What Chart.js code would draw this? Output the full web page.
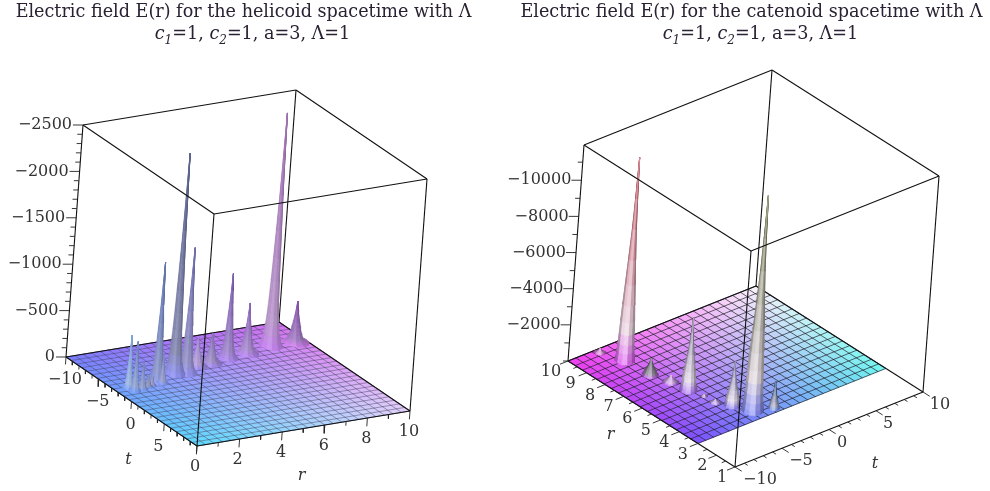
<!DOCTYPE html>
<html>
<head>
<meta charset="utf-8">
<title>Electric field E(r)</title>
<script src="https://cdn.jsdelivr.net/npm/chart.js@4"></script>
<style>
  html, body { margin: 0; padding: 0; background: #fff; }
  #page { position: relative; width: 990px; height: 491px; overflow: hidden; }
  .panel { position: absolute; top: 0; width: 495px; height: 491px; }
  .panel canvas { filter: blur(0.4px); }
  .title { position: absolute; top: 0; width: 495px; text-align: center; color: #2a2233;
           font: 17.6px/22px "DejaVu Serif", serif; white-space: nowrap; filter: blur(0.3px); }
  .title sub { font-size: 12px; line-height: 0; }
  .title span { position: relative; left: 9px; }
</style>
</head>
<body>
<div id="page">
  <div class="panel" style="left:0"><canvas id="helicoid" width="495" height="491"></canvas></div>
  <div class="panel" style="left:495px"><canvas id="catenoid" width="495" height="491"></canvas></div>
  <div class="title" style="left:-4px">Electric field E(r) for the helicoid spacetime with Λ<br><span><i>c</i><sub><i>1</i></sub>=1, <i>c</i><sub><i>2</i></sub>=1, a=3, Λ=1</span></div>
  <div class="title" style="left:504px">Electric field E(r) for the catenoid spacetime with Λ<br><span><i>c</i><sub><i>1</i></sub>=1, <i>c</i><sub><i>2</i></sub>=1, a=3, Λ=1</span></div>
</div>
<script>
// Picos de la superficie izquierda (helicoide)
const helicoidR = [0.62, 0.77, 1.15, 1.49, 1.7, 2.05, 2.24, 3.2, 3.7, 4.5, 5.2, 6.1, 7.1, 8.4, 9.55];
const helicoidT = [-2.5, -2.0, -2.1, -2.3, -2.4, -2.8, -2.6, -3.9, -3.7, -4.7, -4.8, -5.2, -5.5, -6.1, -6.1];
const helicoidE = [-570, -520, -280, -120, -90, -1290, -290, -2370, -1340, -290, -310, -900, -530, -2500, -430];
const helicoidW = [0.24, 0.22, 0.22, 0.18, 0.16, 0.36, 0.22, 0.4, 0.4, 0.4, 0.42, 0.4, 0.44, 0.44, 0.52];

// Picos de la superficie derecha (catenoide)
const catenoidR = [8.87, 9.8, 7.6, 6.8, 6.0, 5.35, 4.8, 4.3, 3.8, 3.6, 3.27];
const catenoidT = [-6.2, -7.0, -6.0, -5.4, -5.1, -4.7, -4.6, -3.8, -3.6, -3.0, -1.4];
const catenoidE = [-11200, -200, -900, -350, -4000, -100, -150, -2400, -200, -11900, -1450];
const catenoidW = [0.36, 0.22, 0.3, 0.3, 0.32, 0.12, 0.22, 0.3, 0.14, 0.4, 0.2];

// Etiquetas de los ejes
const helicoidRTicks = [0, 2, 4, 6, 8, 10];
const helicoidTTicks = [-10, -5, 0, 5];
const helicoidETicks = [0, -500, -1000, -1500, -2000, -2500];
const catenoidRTicks = [1, 2, 3, 4, 5, 6, 7, 8, 9, 10];
const catenoidTTicks = [-10, -5, 0, 5, 10];
const catenoidETicks = [-2000, -4000, -6000, -8000, -10000];

// Colores de la punta de cada pico
const helicoidTips = ['#7fa8e0', '#6f8ec8', '#7c90c4', '#8a98c4', '#9c9ccc', '#5f74b4', '#8490c8', '#56608e',
  '#6c6cb0', '#a890d4', '#8c78bc', '#7c5cb4', '#8c64bc', '#a070b4', '#8450ac'];
const catenoidTips = ['#c8505e', '#d890d8', '#5c5868', '#d0a0e8', '#7c7a94', '#c8a0d8', '#c8a8f0',
  '#7474a0', '#9090d0', '#6e7448', '#2e4a7c'];

const panels = [
  {
    id: 'helicoid', xMin: 0,
    org: [66, 357], uVec: [213, -35], vVec: [131, 89], wVec: [17, -232],
    rMin: 0, rMax: 10, eTop: -2500, floorR: [0, 10], rCells: 25, tCells: 25,
    corners: { a: [122, 124, 255], b: [214, 111, 240], c: [228, 208, 250], d: [95, 220, 255] },
    mesh: 'rgba(55,55,85,0.5)', meshWidth: 0.9,
    mid: [236, 226, 250], midK: 0.35, midAt: 0.1,
    shades: [0.92, 1.02, 1.07, 0.92, 0.78],
    ringH: [0, 0.02, 0.05, 0.09, 0.14, 0.2, 0.28, 0.38, 0.5, 0.65, 0.8, 1],
    ringR: [1, 0.8, 0.64, 0.54, 0.46, 0.4, 0.34, 0.28, 0.21, 0.13, 0.07, 0],
    tAspect: 2.7,
    spikes: { r: helicoidR, t: helicoidT, e: helicoidE, w: helicoidW, tips: helicoidTips },
    rTicks: helicoidRTicks, tTicks: helicoidTTicks, eTicks: helicoidETicks,
    rMinor: 1, tMinor: 1, eMinor: 100,
    rEdgeT: 10, tEdgeR: 0, eR: 0, backT: -10,
    rTick: [0, 0, 90], tTick: [0, 0, 80], eTick: [-0.38, -0.3, 0],
    rDx: [-2, -2, -1, -1, -1, -1], rDy: 21,
    tDx: [-1, -1, -1, -6], tDy: 23,
    eLabelDx: -11,
    rName: [5, 10, -2, 47], tName: [0, 0, -3, 58]
  },
  {
    id: 'catenoid', xMin: 495,
    org: [735, 467], uVec: [-167, -106], vVec: [188, -75], wVec: [16, -216],
    rMin: 1, rMax: 10, eTop: -11950, floorR: [3, 10], rCells: 18, tCells: 24,
    corners: { a: [122, 80, 255], b: [242, 60, 240], c: [251, 243, 251], d: [111, 248, 240] },
    mesh: 'rgba(25,25,35,0.75)', meshWidth: 0.9,
    mid: [238, 226, 240], midK: 0.9, midAt: 0.16,
    shades: [0.66, 1.14, 1.24, 0.84, 0.6],
    ringH: [0, 0.02, 0.05, 0.09, 0.14, 0.2, 0.28, 0.38, 0.5, 0.65, 0.8, 1],
    ringR: [1, 0.92, 0.85, 0.8, 0.75, 0.7, 0.62, 0.5, 0.36, 0.2, 0.1, 0],
    tAspect: 2.2,
    spikes: { r: catenoidR, t: catenoidT, e: catenoidE, w: catenoidW, tips: catenoidTips },
    rTicks: catenoidRTicks, tTicks: catenoidTTicks, eTicks: catenoidETicks,
    rMinor: 0.5, tMinor: 1, eMinor: 1000,
    rEdgeT: -10, tEdgeR: 1, eR: 10, backT: 10,
    rTick: [0, -0.85, 0], tTick: [-0.36, 0, 0], eTick: [0.21, -0.65, 0],
    rDx: [-13, -14, -15, -15, -15, -15, -15, -15, -16, -17], rDy: 11,
    tDx: [25, 19, 13, 12, 17], tDy: 13,
    eLabelDx: -10,
    rName: [5.5, -10, -41, 21], tName: [1, 0, 46, 34]
  }
];

// Proyeccion ortografica del cubo (r, t, E) al plano de la pagina
function project(p, r, t, e) {
  const u = (r - p.rMin) / (p.rMax - p.rMin);
  const v = (t + 10) / 20;
  const w = e / p.eTop;
  return {
    x: p.org[0] + u * p.uVec[0] + v * p.vVec[0] + w * p.wVec[0],
    y: p.org[1] + u * p.uVec[1] + v * p.vVec[1] + w * p.wVec[1]
  };
}

function mix(a, b, k) {
  return [a[0] + (b[0] - a[0]) * k, a[1] + (b[1] - a[1]) * k, a[2] + (b[2] - a[2]) * k];
}

function css(c) {
  return 'rgb(' + c.map(v => Math.max(0, Math.min(255, Math.round(v)))).join(',') + ')';
}

function hex(s) {
  return [parseInt(s.slice(1, 3), 16), parseInt(s.slice(3, 5), 16), parseInt(s.slice(5, 7), 16)];
}

// Color del piso segun la posicion (r, t)
function floorColor(p, r, t) {
  const u = (r - p.floorR[0]) / (p.floorR[1] - p.floorR[0]);
  const v = (t + 10) / 20;
  const c = p.corners;
  return mix(mix(c.a, c.b, u), mix(c.d, c.c, u), v);
}

function addPoly(list, pts, color) {
  list.push({ data: pts, fill: 'shape', backgroundColor: color, borderColor: color, borderWidth: 0.6 });
}

function addLine(list, pts, color, width) {
  list.push({ data: pts, fill: false, borderColor: color, borderWidth: width });
}

function addFloor(p, list) {
  const [r0, r1] = p.floorR;
  const dr = (r1 - r0) / p.rCells;
  const dt = 20 / p.tCells;
  for (let i = 0; i < p.rCells; i++) {
    for (let j = 0; j < p.tCells; j++) {
      const ra = r0 + i * dr, ta = -10 + j * dt;
      addPoly(list, [
        project(p, ra, ta, 0), project(p, ra + dr, ta, 0),
        project(p, ra + dr, ta + dt, 0), project(p, ra, ta + dt, 0),
        project(p, ra, ta, 0)
      ], css(floorColor(p, ra + dr / 2, ta + dt / 2)));
    }
  }
  for (let i = 0; i <= p.rCells; i++) {
    const ra = r0 + i * dr;
    addLine(list, [project(p, ra, -10, 0), project(p, ra, 10, 0)], p.mesh, p.meshWidth);
  }
  for (let j = 0; j <= p.tCells; j++) {
    const ta = -10 + j * dt;
    addLine(list, [project(p, r0, ta, 0), project(p, r1, ta, 0)], p.mesh, p.meshWidth);
  }
}

// Cada pico se arma con anillos: sectores frontales, de atras hacia adelante
function addSpikes(p, list) {
  const s = p.spikes;
  const sectors = 12;
  const order = s.r.map((_, i) => i).sort((a, b) => project(p, s.r[a], s.t[a], 0).y - project(p, s.r[b], s.t[b], 0).y);
  for (const i of order) {
    const tip = hex(s.tips[i]);
    // los picos chicos casi no se aclaran
    const mid = mix(tip, p.mid, p.midK * Math.min(1, Math.abs(s.e[i]) / Math.abs(p.eTop) * 6));
    const baseColor = floorColor(p, s.r[i], s.t[i]);
    const center = project(p, s.r[i], s.t[i], 0);
    const ringPoint = (a, k) => project(p,
      s.r[i] + s.w[i] * p.ringR[k] * Math.cos(a),
      s.t[i] + s.w[i] * p.tAspect * p.ringR[k] * Math.sin(a),
      s.e[i] * p.ringH[k]);
    const secs = [];
    for (let j = 0; j < sectors; j++) {
      const a = j / sectors * Math.PI * 2, b = (j + 1) / sectors * Math.PI * 2;
      const m = ringPoint((a + b) / 2, 0);
      secs.push({ a, b, y: m.y, dx: m.x - center.x });
    }
    secs.sort((m, n) => m.y - n.y);
    const visible = secs.slice(sectors / 2 - 1);
    const maxDx = Math.max(...secs.map(m => Math.abs(m.dx)));
    for (const sec of visible) {
      const pos = (sec.dx / maxDx + 1) / 2 * (p.shades.length - 1);
      const low = Math.min(p.shades.length - 2, Math.floor(pos));
      const shade = p.shades[low] + (p.shades[low + 1] - p.shades[low]) * (pos - low);
      for (let k = 0; k < p.ringH.length - 1; k++) {
        const h = (p.ringH[k] + p.ringH[k + 1]) / 2;
        const body = h < p.midAt ? mix(baseColor, mid, h / p.midAt) : mix(mid, tip, (h - p.midAt) / (1 - p.midAt));
        const lit = shade > 1 ? mix(body, [255, 255, 255], (shade - 1) * 1.6) : body.map(v => v * shade);
        const a0 = ringPoint(sec.a, k), b0 = ringPoint(sec.b, k);
        const b1 = ringPoint(sec.b, k + 1), a1 = ringPoint(sec.a, k + 1);
        addPoly(list, [a0, b0, b1, a1, a0], css(lit));
      }
    }
  }
}

function addBox(p, list, front) {
  const rA = p.rMin, rB = p.rMax, e = p.eTop;
  const seg = (r1, t1, e1, r2, t2, e2) => addLine(list, [project(p, r1, t1, e1), project(p, r2, t2, e2)], '#111', 1.1);
  if (!front) {
    // arista trasera y bordes del piso
    seg(rB, p.backT, 0, rB, p.backT, e);
    seg(rA, -10, 0, rB, -10, 0);
    seg(rB, -10, 0, rB, 10, 0);
    seg(rB, 10, 0, rA, 10, 0);
    seg(rA, 10, 0, rA, -10, 0);
    return;
  }
  seg(rA, -10, e, rB, -10, e);
  seg(rB, -10, e, rB, 10, e);
  seg(rB, 10, e, rA, 10, e);
  seg(rA, 10, e, rA, -10, e);
  const verticals = [[rA, -10], [rA, 10], [rB, -10], [rB, 10]];
  for (const [r, t] of verticals) {
    if (r === rB && t === p.backT) continue;
    seg(r, t, 0, r, t, e);
  }
}

// Marcas de los ejes y sus textos
function addAxes(p, list, texts) {
  const tick = (r, t, e, d, k) => addLine(list, [project(p, r, t, e), project(p, r + d[0] * k, t + d[1] * k, e + d[2] * k)], '#222', 0.9);
  for (let r = p.rMin; r <= p.rMax + 1e-6; r += p.rMinor) {
    tick(r, p.rEdgeT, 0, p.rTick, p.rTicks.includes(r) ? 1 : 0.5);
  }
  for (let t = -10; t <= 10; t += p.tMinor) {
    tick(p.tEdgeR, t, 0, p.tTick, p.tTicks.includes(t) || t === 10 ? 1 : 0.5);
  }
  for (let e = 0; e >= p.eTop; e -= p.eMinor) {
    tick(p.eR, -10, e, p.eTick, p.eTicks.includes(e) ? 1 : 0.5);
  }
  const numFont = '16px "DejaVu Serif", serif';
  const nameFont = 'italic 16px "DejaVu Serif", serif';
  p.rTicks.forEach((r, i) => {
    const q = project(p, r, p.rEdgeT, 0);
    texts.push({ x: q.x + p.rDx[i], y: q.y + p.rDy, text: String(r), font: numFont, align: 'center' });
  });
  p.tTicks.forEach((t, i) => {
    const q = project(p, p.tEdgeR, t, 0);
    texts.push({ x: q.x + p.tDx[i], y: q.y + p.tDy, text: String(t).replace('-', '−'), font: numFont, align: 'center' });
  });
  p.eTicks.forEach(e => {
    const q = project(p, p.eR, -10, e);
    texts.push({ x: q.x + p.eLabelDx, y: q.y, text: String(e).replace('-', '−'), font: numFont, align: 'right' });
  });
  const rn = project(p, p.rName[0], p.rName[1], 0);
  texts.push({ x: rn.x + p.rName[2], y: rn.y + p.rName[3], text: 'r', font: nameFont, align: 'center' });
  const tn = project(p, p.tName[0], p.tName[1], 0);
  texts.push({ x: tn.x + p.tName[2], y: tn.y + p.tName[3], text: 't', font: nameFont, align: 'center' });
}

const axisText = {
  id: 'axisText',
  afterDraw(chart, _args, opts) {
    const ctx = chart.ctx;
    ctx.save();
    ctx.fillStyle = '#333';
    ctx.textBaseline = 'middle';
    for (const t of opts.items) {
      ctx.font = t.font;
      ctx.textAlign = t.align;
      ctx.fillText(t.text, chart.scales.x.getPixelForValue(t.x), chart.scales.y.getPixelForValue(t.y));
    }
    ctx.restore();
  }
};

function drawPanel(p) {
  const list = [];
  const texts = [];
  addFloor(p, list);
  addBox(p, list, false);
  addSpikes(p, list);
  addBox(p, list, true);
  addAxes(p, list, texts);
  list.forEach((d, i) => { d.order = -i; d.pointRadius = 0; d.tension = 0; });
  new Chart(document.getElementById(p.id).getContext('2d'), {
    type: 'line',
    data: { datasets: list },
    plugins: [axisText],
    options: {
      responsive: false,
      animation: false,
      events: [],
      clip: false,
      layout: { padding: 0 },
      scales: {
        x: { type: 'linear', display: false, min: p.xMin, max: p.xMin + 495 },
        y: { type: 'linear', display: false, min: 0, max: 491, reverse: true }
      },
      plugins: {
        legend: { display: false },
        tooltip: { enabled: false },
        title: { display: false },
        axisText: { items: texts }
      }
    }
  });
}

panels.forEach(drawPanel);
</script>
</body>
</html>
